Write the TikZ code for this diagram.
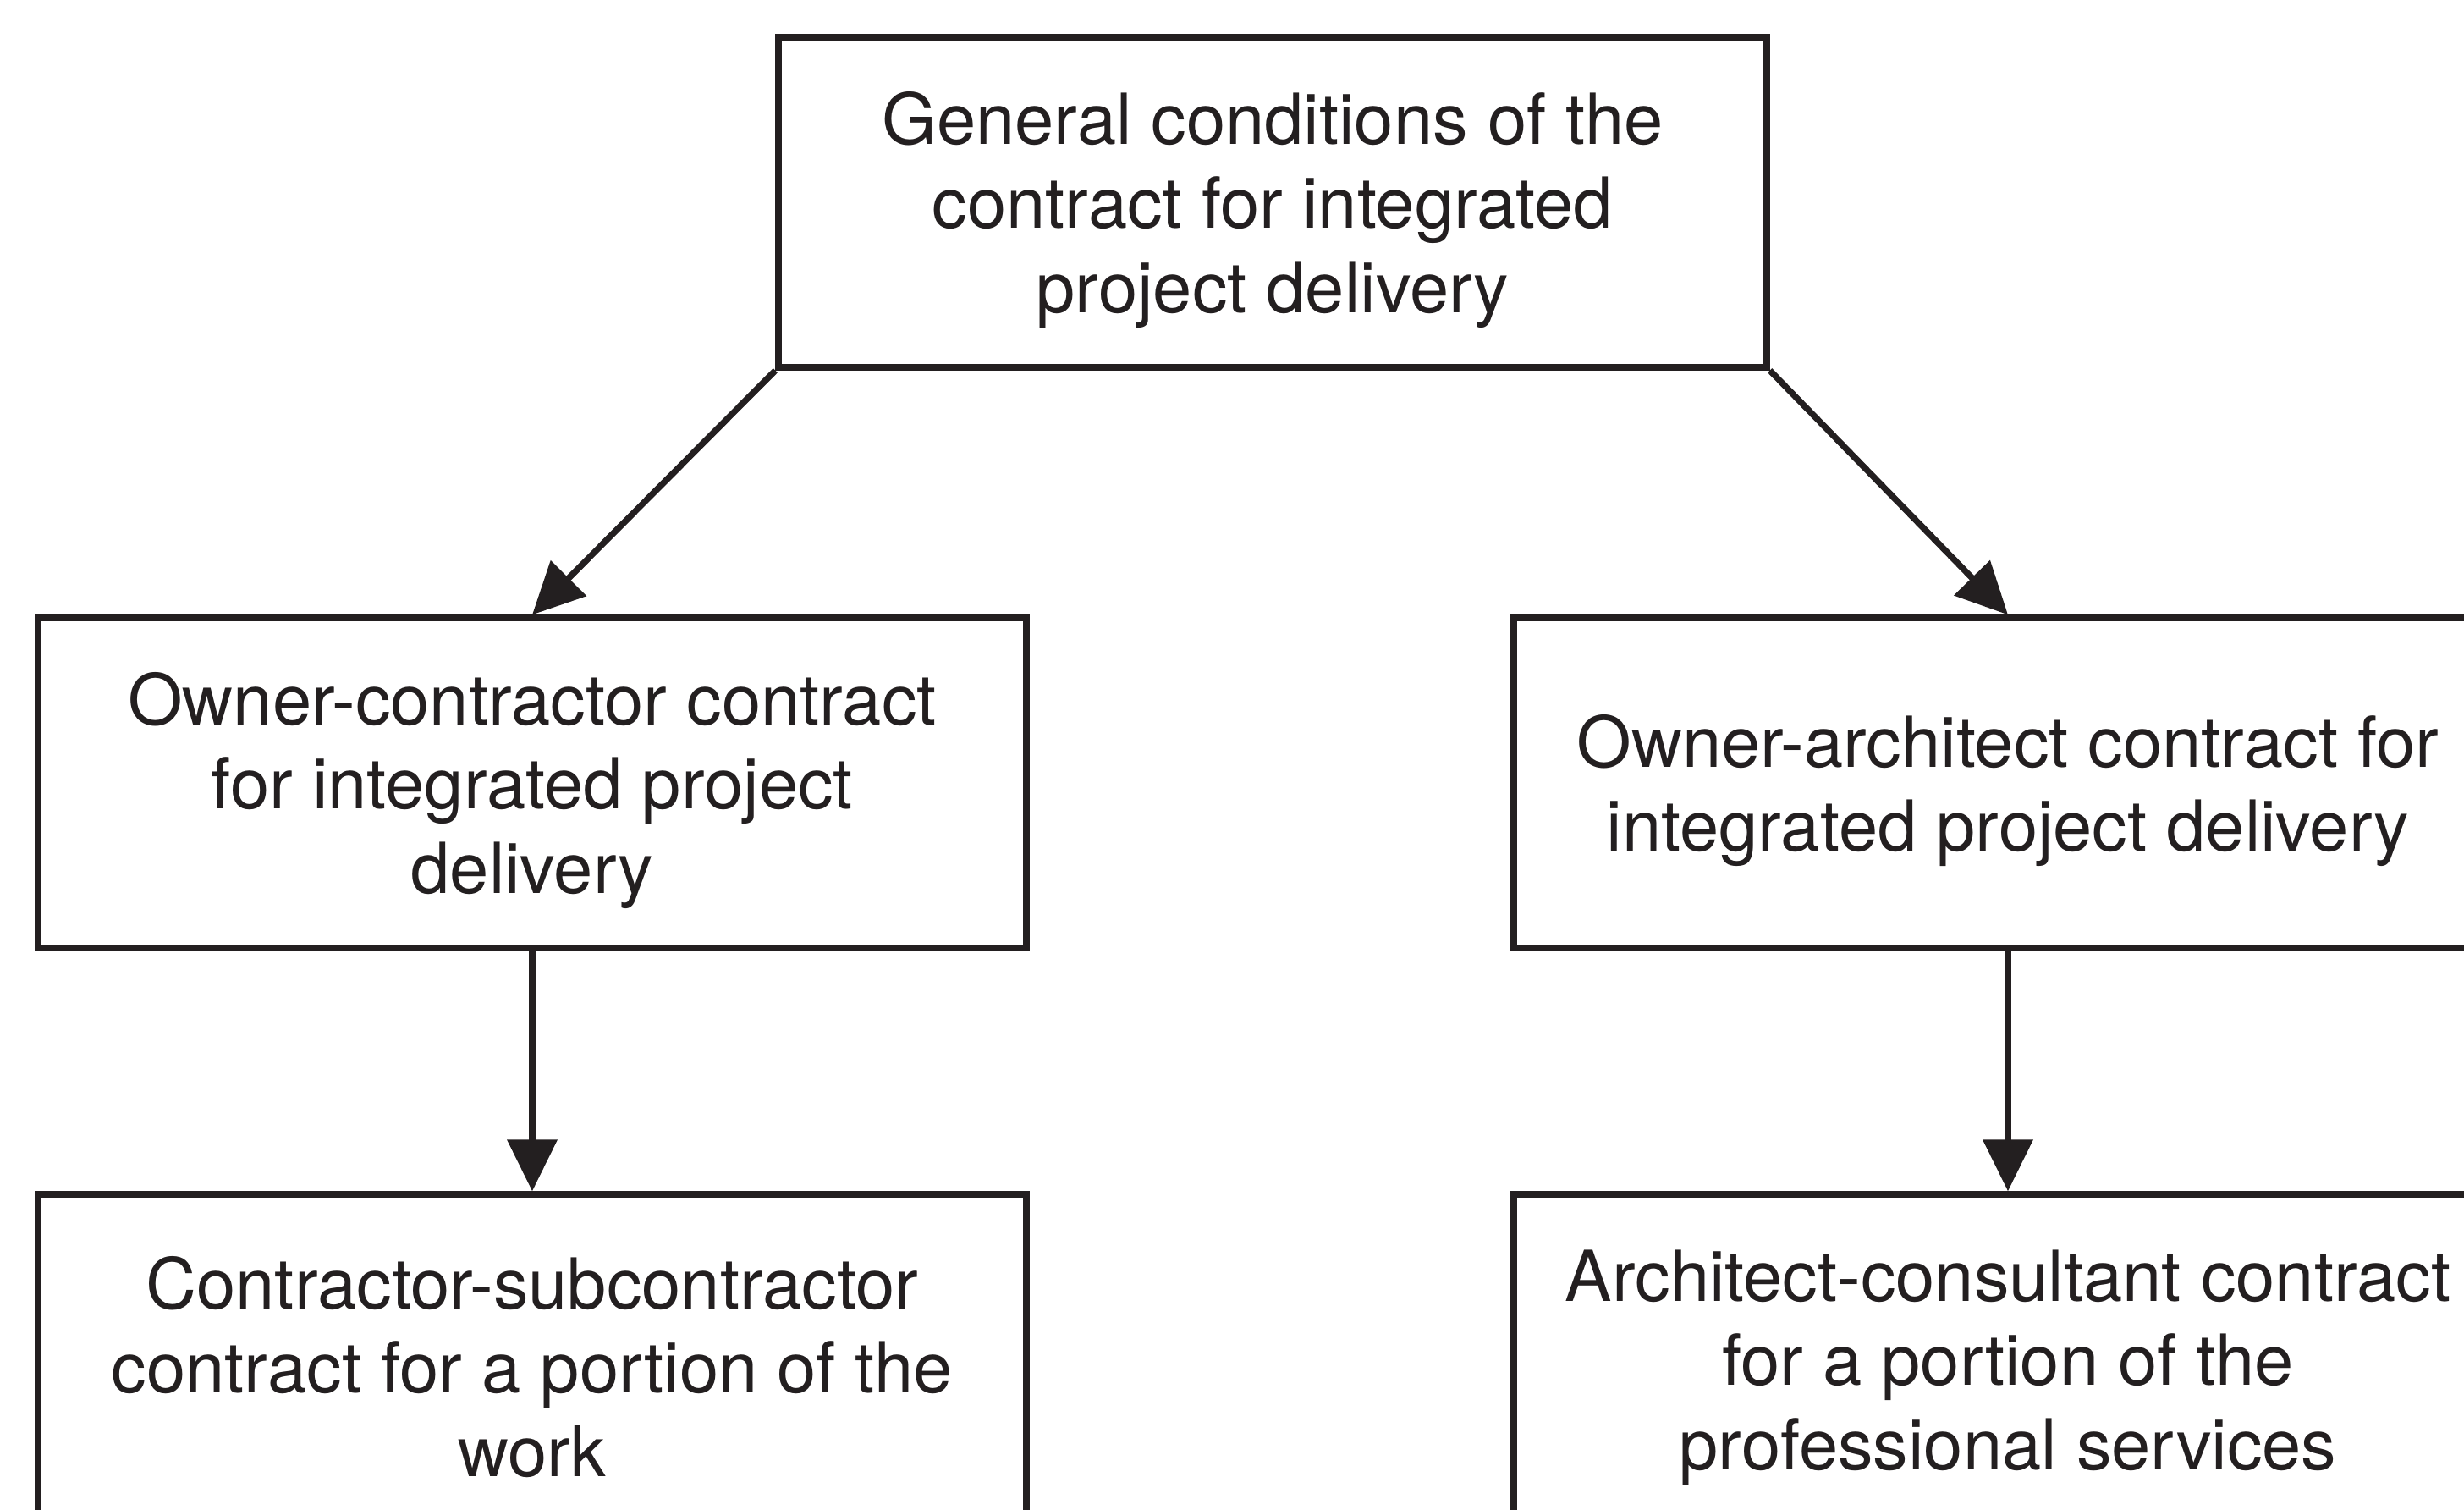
\documentclass[tikz,border=0pt]{standalone}
\usepackage{fontspec}
\setmainfont{TeX Gyre Heros}
\usepackage{tikz}
\usetikzlibrary{arrows.meta,positioning}
\definecolor{DiagInk}{HTML}{231F20}
\definecolor{DiagWhite}{HTML}{ffffff}
% padding strut for the first line of a box
\newcommand{\toppad}{\rule{0pt}{0.8cm}}
\tikzset{
    % Contract box style
    contractnode/.style={
        draw=DiagInk,
        fill=DiagWhite,
        text=DiagInk,
        line width=2.1pt,
        minimum width=11.68cm,
        minimum height=3.9cm,
        align=center,
        font=\fontsize{23.65}{28.2}\selectfont
    },
    % Arrow style (straight lines only)
    myarrow/.style={
        -{Triangle[length=0.61cm,width=0.58cm]},
        line width=2.1pt,
        draw=DiagInk
    }
}
\begin{document}
\begin{tikzpicture}
            \useasboundingbox (0,0) rectangle (29.12,-17.83);
            \clip (0,0) rectangle (29.12,-17.83);

            \node[contractnode] (gc) at (15.04,-2.39) {\toppad General conditions of the\\contract for integrated\\project delivery};
            \node[contractnode] (oc) at (6.29,-9.25) {\toppad Owner-contractor contract\\for integrated project\\delivery};
            \node[contractnode] (oa) at (23.73,-9.25) {\toppad Owner-architect contract for\\integrated project delivery};
            \node[contractnode] (cs) at (6.29,-16.06) {\toppad Contractor-subcontractor\\contract for a portion of the\\work};
            \node[contractnode] (ac) at (23.73,-16.06) {\toppad Architect-consultant contract\\for a portion of the\\professional services};

            \draw[myarrow] (gc.south west) -- (oc.north);
            \draw[myarrow] (gc.south east) -- (oa.north);
            \draw[myarrow] (oc) -- (cs);
            \draw[myarrow] (oa) -- (ac);
        \end{tikzpicture}
\end{document}
